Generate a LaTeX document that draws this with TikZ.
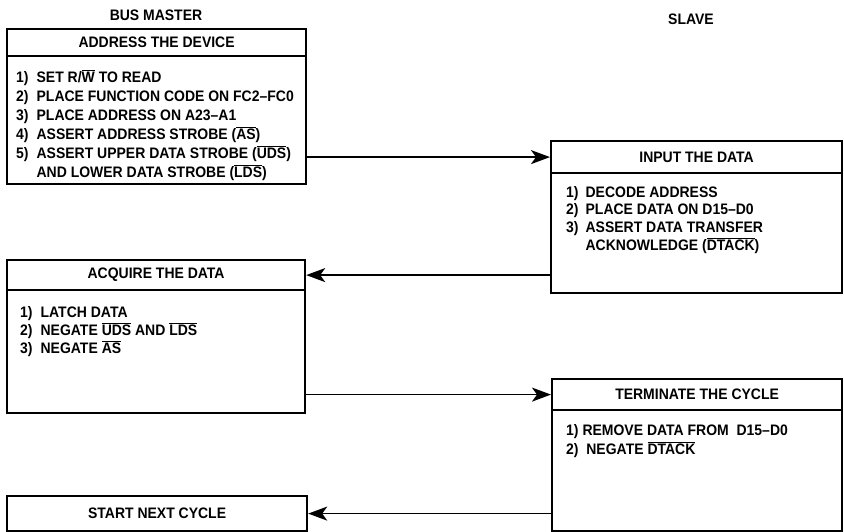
\documentclass[tikz,border=0pt]{standalone}
\usepackage{fontspec}
\setmainfont{Liberation Sans}[UprightFont=* Bold, FakeStretch=0.92]
\usetikzlibrary{arrows.meta}
\newcommand\myovl[1]{\ensuremath{\overline{\mbox{#1}}}}
\tikzset{
  boxbody/.style={draw, line width=2.2pt, anchor=north west, inner sep=0pt},
  boxhead/.style={draw, line width=2.2pt, anchor=north west, inner sep=0pt},
  arr/.style={line width=1.7pt, -{Stealth[length=19pt,width=14pt,inset=5pt]}},
  items/.style={anchor=base west, inner sep=0pt, align=left},
  titletext/.style={inner sep=0pt}
}
\begin{document}
\begin{tikzpicture}[x=1pt, y=-1pt, font=\fontsize{15.2}{19}\selectfont]
\path[use as bounding box] (0,0) rectangle (844,532);

% titles
\node[titletext] (bm) at (156,15) {BUS MASTER};
\node[titletext] (sl) at (691,19) {SLAVE};

% box 1
\node[boxbody, minimum width=299pt, minimum height=155pt] (b1) at (6,28) {};
\node[boxhead, minimum width=299pt, minimum height=27pt] (h1) at (6,28) {ADDRESS THE DEVICE};
\node[items] (t1) at (16,82.3) {\begin{tabular}[t]{@{}l@{\hspace{8pt}}l@{}}
1) & SET R/\myovl{W} TO READ\\
2) & PLACE FUNCTION CODE ON FC2--FC0\\
3) & PLACE ADDRESS ON A23--A1\\
4) & ASSERT ADDRESS STROBE (\myovl{AS})\\
5) & ASSERT UPPER DATA STROBE (\myovl{UDS})\\
   & AND LOWER DATA STROBE (\myovl{LDS})
\end{tabular}};

% box 2
\node[boxbody, minimum width=291pt, minimum height=152pt] (b2) at (550,140) {};
\node[boxhead, minimum width=291pt, minimum height=32pt] (h2) at (550,140) {INPUT THE DATA};
\node[items, font=\fontsize{15.2}{17.7}\selectfont] (t2) at (566,197) {\begin{tabular}[t]{@{}l@{\hspace{7pt}}l@{}}
1) & DECODE ADDRESS\\
2) & PLACE DATA ON D15--D0\\
3) & ASSERT DATA TRANSFER\\
   & ACKNOWLEDGE (\myovl{DTACK})
\end{tabular}};

% box 3
\node[boxbody, minimum width=298pt, minimum height=153pt] (b3) at (6,259) {};
\node[boxhead, minimum width=298pt, minimum height=30pt] (h3) at (6,259) {ACQUIRE THE DATA};
\node[items, font=\fontsize{15.2}{18}\selectfont] (t3) at (20,317) {\begin{tabular}[t]{@{}l@{\hspace{8pt}}l@{}}
1) & LATCH DATA\\
2) & NEGATE \myovl{UDS} AND \myovl{LDS}\\
3) & NEGATE \myovl{AS}
\end{tabular}};

% box 4
\node[boxbody, minimum width=290pt, minimum height=152pt] (b4) at (551,378) {};
\node[boxhead, minimum width=290pt, minimum height=31pt] (h4) at (551,378) {TERMINATE THE CYCLE};
\node[items, font=\fontsize{15.2}{19.5}\selectfont] (t4) at (566,435) {\begin{tabular}[t]{@{}l@{}}
1) REMOVE DATA FROM\ \ D15--D0\\
2)\ \ NEGATE \myovl{DTACK}
\end{tabular}};

% box 5
\node[boxbody, anchor=north west, minimum width=300pt, minimum height=35pt] (b5) at (6,495) {START NEXT CYCLE};

% connectors
\draw[arr] (b1.east |- h2.west) -- (h2.west);
\draw[arr] (b2.west |- h3.east) -- (h3.east);
\draw[arr] (b3.east |- h4.west) -- (h4.west);
\draw[arr] (b4.west |- b5.east) -- (b5.east);
\end{tikzpicture}
\end{document}
